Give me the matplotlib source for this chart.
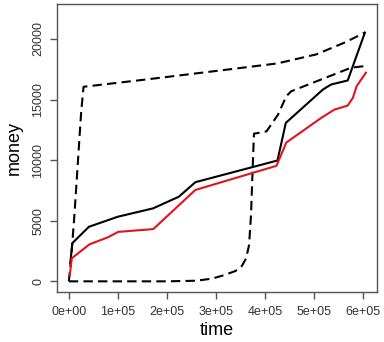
import matplotlib
matplotlib.use("Agg")
import matplotlib.pyplot as plt

plt.rcParams['font.family'] = ['Liberation Sans', 'DejaVu Sans']

# Black solid series
black_t = [3000, 7000, 41000, 100000, 172000, 224500, 258400, 426000, 443000, 518700, 535500, 569400, 604500]
black_y = [1500, 3150, 4500, 5330, 6020, 6980, 8180, 9970, 13070, 15820, 16240, 16570, 20520]

# Red solid series
red_t = [2000, 6000, 42000, 79000, 100800, 172400, 258400, 424000, 444000, 515200, 542400, 569400, 580000, 587600, 606500]
red_y = [500, 1900, 3050, 3620, 4080, 4310, 7540, 9530, 11450, 13480, 14170, 14500, 15140, 16100, 17210]

# Dashed series 1 (jumps early)
d1_t = [0, 4900, 11600, 18300, 25000, 30000, 157000, 326000, 426000, 505000, 562600, 604500]
d1_y = [0, 2010, 5610, 9750, 13890, 16050, 16650, 17480, 17980, 18720, 19690, 20520]

# Dashed series 2 (jumps late)
d2_t = [0, 200000, 260000, 292000, 316000, 340000, 353000, 362000, 368000, 372000, 375000, 378000, 403600, 427000, 444000, 454000, 515000, 576000, 604500]
d2_y = [0, 0, 50, 220, 500, 850, 1250, 1900, 3000, 5500, 9000, 12180, 12370, 13750, 15270, 15680, 16650, 17620, 17760]

xticks = [0, 100000, 200000, 300000, 400000, 500000, 600000]
xtick_labels = ["0e+00", "1e+05", "2e+05", "3e+05", "4e+05", "5e+05", "6e+05"]
yticks = [0, 5000, 10000, 15000, 20000]
ytick_labels = ["0", "5000", "10000", "15000", "20000"]

fig = plt.figure(figsize=(3.84, 3.42), dpi=100)
ax = fig.add_axes([57/384, 50/342, 320/384, 288/342])

lw = 1.5
ax.plot(d1_t, d1_y, color='black', lw=lw, dashes=(4.5, 2.5))
ax.plot(d2_t, d2_y, color='black', lw=lw, dashes=(4.5, 2.5))
ax.plot(black_t, black_y, color='black', lw=lw)
ax.plot(red_t, red_y, color='#e0141e', lw=lw)

xr = 605000
ax.set_xlim(-0.04 * xr, xr * 1.04)
ax.set_ylim(-0.04 * 22000, 22000 * 1.04)

ax.set_xticks(xticks)
ax.set_xticklabels(xtick_labels)
ax.set_yticks(yticks)
ax.set_yticklabels(ytick_labels, rotation=90, va='center')

for s in ax.spines.values():
    s.set_color('#555555')
    s.set_linewidth(1.0)
ax.tick_params(axis='both', colors='#555555', labelcolor='#333333', length=5, width=1.0, labelsize=9)
ax.tick_params(axis='x', pad=5)
ax.tick_params(axis='y', pad=4)

ax.set_xlabel('time', fontsize=13, labelpad=3)
ax.set_ylabel('money', fontsize=13, labelpad=7)

fig.savefig('out.png', dpi=100)
